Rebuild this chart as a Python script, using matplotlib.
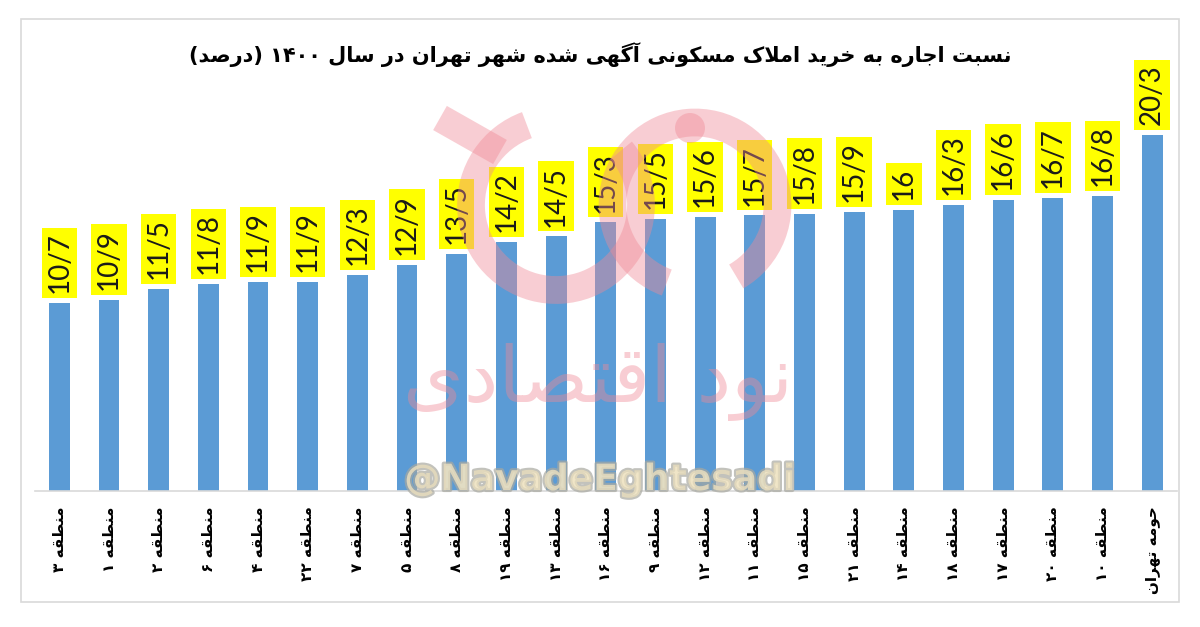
import matplotlib
matplotlib.use('Agg')
import matplotlib.pyplot as plt
import matplotlib.patheffects as pe
from matplotlib.patches import Rectangle, Arc, Circle

# ============================================================
# DATA
# ============================================================
districts = ['منطقه ۳', 'منطقه ۱', 'منطقه ۲', 'منطقه ۶', 'منطقه ۴', 'منطقه ۲۲',
             'منطقه ۷', 'منطقه ۵', 'منطقه ۸', 'منطقه ۱۹', 'منطقه ۱۳', 'منطقه ۱۶',
             'منطقه ۹', 'منطقه ۱۲', 'منطقه ۱۱', 'منطقه ۱۵', 'منطقه ۲۱', 'منطقه ۱۴',
             'منطقه ۱۸', 'منطقه ۱۷', 'منطقه ۲۰', 'منطقه ۱۰', 'حومه تهران']
ratios = [10.7, 10.9, 11.5, 11.8, 11.9, 11.9, 12.3, 12.9, 13.5, 14.2, 14.5, 15.3,
          15.5, 15.6, 15.7, 15.8, 15.9, 16.0, 16.3, 16.6, 16.7, 16.8, 20.3]
title = 'نسبت اجاره به خرید املاک مسکونی آگهی شده شهر تهران در سال ۱۴۰۰ (درصد)'
brand_fa = 'نود اقتصادی'
brand_handle = '@NavadeEghtesadi'

# ============================================================
# MINIMAL PERSIAN SHAPING (matplotlib has no bidi / joining)
# ============================================================
DUAL = {
    'ب': (0xFE8F, 0xFE90, 0xFE91, 0xFE92), 'پ': (0xFB56, 0xFB57, 0xFB58, 0xFB59),
    'ت': (0xFE95, 0xFE96, 0xFE97, 0xFE98), 'ج': (0xFE9D, 0xFE9E, 0xFE9F, 0xFEA0),
    'ح': (0xFEA1, 0xFEA2, 0xFEA3, 0xFEA4), 'خ': (0xFEA5, 0xFEA6, 0xFEA7, 0xFEA8),
    'س': (0xFEB1, 0xFEB2, 0xFEB3, 0xFEB4), 'ش': (0xFEB5, 0xFEB6, 0xFEB7, 0xFEB8),
    'ص': (0xFEB9, 0xFEBA, 0xFEBB, 0xFEBC), 'ط': (0xFEC1, 0xFEC2, 0xFEC3, 0xFEC4),
    'ق': (0xFED5, 0xFED6, 0xFED7, 0xFED8), 'ل': (0xFEDD, 0xFEDE, 0xFEDF, 0xFEE0),
    'م': (0xFEE1, 0xFEE2, 0xFEE3, 0xFEE4), 'ن': (0xFEE5, 0xFEE6, 0xFEE7, 0xFEE8),
    'ه': (0xFEE9, 0xFEEA, 0xFEEB, 0xFEEC), 'ی': (0xFBFC, 0xFBFD, 0xFBFE, 0xFBFF),
    'ک': (0xFB8E, 0xFB8F, 0xFB90, 0xFB91), 'گ': (0xFB92, 0xFB93, 0xFB94, 0xFB95),
}
RIGHT = {
    'ا': (0xFE8D, 0xFE8E), 'آ': (0xFE81, 0xFE82), 'د': (0xFEA9, 0xFEAA),
    'ر': (0xFEAD, 0xFEAE), 'ز': (0xFEAF, 0xFEB0), 'و': (0xFEED, 0xFEEE),
}
LAM_ALEF = {'ا': (0xFEFB, 0xFEFC), 'آ': (0xFEF5, 0xFEF6)}
DIGITS = set('0123456789۰۱۲۳۴۵۶۷۸۹')


def fa(text):
    chars = list(text)
    n = len(chars)
    out = []
    i = 0
    while i < n:
        c = chars[i]
        if c not in DUAL and c not in RIGHT:
            out.append(c)
            i += 1
            continue
        prev_joins = i > 0 and chars[i - 1] in DUAL
        if c == 'ل' and i + 1 < n and chars[i + 1] in LAM_ALEF:
            lig = LAM_ALEF[chars[i + 1]]
            out.append(chr(lig[1] if prev_joins else lig[0]))
            i += 2
            continue
        next_joins = c in DUAL and i + 1 < n and (chars[i + 1] in DUAL or chars[i + 1] in RIGHT)
        if c in DUAL:
            f = DUAL[c]
            g = f[3] if prev_joins and next_joins else f[1] if prev_joins else f[2] if next_joins else f[0]
        else:
            f = RIGHT[c]
            g = f[1] if prev_joins else f[0]
        out.append(chr(g))
        i += 1
    # visual order: reverse, keep digit runs left-to-right, mirror brackets
    vis = out[::-1]
    res = []
    run = []
    for c in vis:
        if c in DIGITS:
            run.append(c)
        else:
            res.extend(run[::-1])
            run = []
            res.append({'(': ')', ')': '('}.get(c, c))
    res.extend(run[::-1])
    return ''.join(res)


# ============================================================
# FIGURE
# ============================================================
W, H = 1200, 627
fig = plt.figure(figsize=(12, 6.27), dpi=100)
fig.patch.set_facecolor('white')

# light frame around the chart
fig.add_artist(Rectangle((21 / W, 1 - 602 / H), (1179 - 21) / W, (602 - 19) / H,
                         transform=fig.transFigure, fill=False,
                         edgecolor='#D9D9D9', linewidth=1.2))

ax = fig.add_axes([35 / W, 1 - 491 / H, (1177 - 35) / W, (491 - 60) / H])
x = list(range(len(ratios)))
ax.bar(x, ratios, width=0.42, color='#5B9BD5', zorder=2)
ax.set_xlim(-0.49, 22.5)
ax.set_ylim(0, 24.55)

for xi, v in zip(x, ratios):
    lab = f'{v:.1f}'.replace('.', '/') if v % 1 else f'{int(v)}'
    ax.annotate(lab, (xi, v), xytext=(0, 7), textcoords='offset points',
                rotation=90, ha='center', va='bottom', fontsize=20,
                family='Lato', color='#1a1a1a', zorder=3,
                bbox=dict(boxstyle='square,pad=0.17', facecolor='#FFFF00',
                          edgecolor='none'))

ax.set_xticks(x)
ax.set_xticklabels([fa(d) for d in districts], rotation=90, fontsize=11,
                   fontweight='bold', family='DejaVu Sans', color='black')
ax.tick_params(axis='x', length=0, pad=11)
ax.set_yticks([])
for s in ['top', 'left', 'right']:
    ax.spines[s].set_visible(False)
ax.spines['bottom'].set_color('#D9D9D9')
ax.spines['bottom'].set_linewidth(1.2)

fig.text(0.5, 1 - 55 / H, fa(title), ha='center', va='center', fontsize=15,
         fontweight='bold', family='DejaVu Sans', color='black')

# ============================================================
# WATERMARK (drawn on top, semi-transparent)
# ============================================================
pink = '#F08A96'
wm = fig.add_axes([0, 0, 1, 1], facecolor='none')
wm.set_xlim(0, W)
wm.set_ylim(H, 0)
wm.axis('off')
wm.add_patch(Arc((556, 205), 170, 170, theta1=-40, theta2=250, color=pink,
                 linewidth=20, alpha=0.42))
wm.plot([440, 500], [118, 152], color=pink, linewidth=20, alpha=0.42,
        solid_capstyle='butt')
wm.add_patch(Arc((695, 205), 165, 165, theta1=110, theta2=420, color=pink,
                 linewidth=20, alpha=0.42))
wm.add_patch(Circle((690, 128), 15, color=pink, alpha=0.42, linewidth=0))
wm.text(598, 382, fa(brand_fa), ha='center', va='center', fontsize=56,
        color=pink, alpha=0.42, family='DejaVu Sans')
wm.text(600, 480, brand_handle, ha='center', va='center', fontsize=26,
        fontweight='bold', family='DejaVu Sans', color='#EFE3C2', alpha=0.7,
        path_effects=[pe.withStroke(linewidth=3, foreground='#A8A8A0')])

fig.savefig('out.png', dpi=100, facecolor='white')
